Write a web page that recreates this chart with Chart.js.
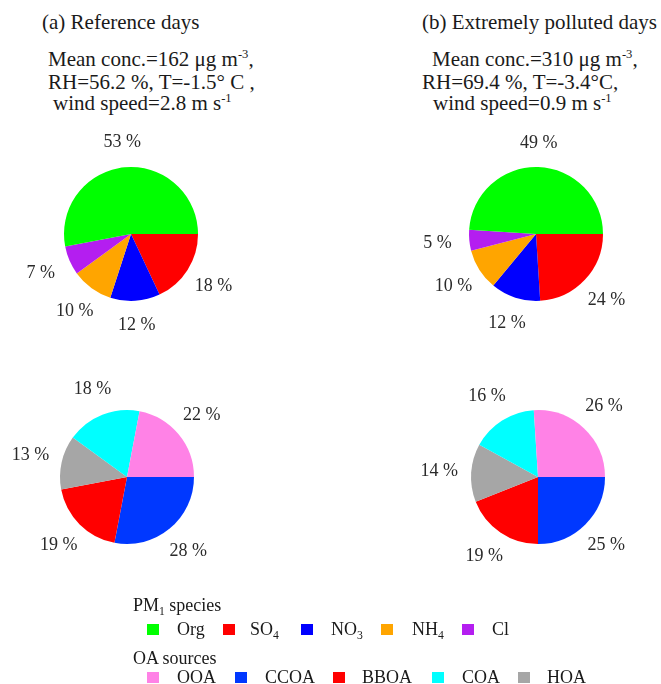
<!DOCTYPE html>
<html><head><meta charset="utf-8">
<script src="https://cdn.jsdelivr.net/npm/chart.js@4/dist/chart.umd.min.js"></script>
<style>
html,body{margin:0;padding:0;background:#fff;}
body{width:661px;height:684px;position:relative;overflow:hidden;font-family:"Liberation Serif","Times New Roman",serif;color:#1a1a1a;}
.t{position:absolute;white-space:nowrap;line-height:1;}
.h{font-size:21px;}
sup{font-size:60%;vertical-align:0.6em;line-height:0;}
sub{font-size:65%;vertical-align:-0.35em;line-height:0;}
canvas{position:absolute;}
.sq{position:absolute;width:12px;height:11px;}
.lg{font-size:18px;}
</style></head>
<body>
<div class="t h" style="left:42px;top:12px;">(a) Reference days</div>
<div class="t h" style="left:48px;top:49px;">Mean conc.=162 μg m<sup>-3</sup>,</div>
<div class="t h" style="left:48px;top:72px;">RH=56.2 %, T=-1.5° C ,</div>
<div class="t h" style="left:53px;top:93px;">wind speed=2.8 m s<sup>-1</sup></div>

<div class="t h" style="left:422px;top:12px;">(b) Extremely polluted days</div>
<div class="t h" style="left:432px;top:49px;">Mean conc.=310 μg m<sup>-3</sup>,</div>
<div class="t h" style="left:422px;top:72px;">RH=69.4 %, T=-3.4°C,</div>
<div class="t h" style="left:433px;top:93px;">wind speed=0.9 m s<sup>-1</sup></div>

<canvas id="c1" width="260" height="260" style="left:1px;top:104px;"></canvas>
<canvas id="c2" width="260" height="260" style="left:406px;top:104px;"></canvas>
<canvas id="c3" width="260" height="260" style="left:-3px;top:347px;"></canvas>
<canvas id="c4" width="260" height="260" style="left:408px;top:347px;"></canvas>

<div id="legend"></div>

<script>
// Categories (ordered clockwise from 3 o'clock, as drawn)
const speciesLabels = ['SO4', 'NO3', 'NH4', 'Cl', 'Org'];
const speciesColors = ['#ff0000', '#0000ff', '#ffa500', '#b41ef0', '#00ff00'];
const speciesReference = [18, 12, 10, 7, 53];
const speciesPolluted  = [24, 12, 10, 5, 49];

const sourceLabels = ['CCOA', 'BBOA', 'HOA', 'COA', 'OOA'];
const sourceColors = ['#0038ff', '#ff0000', '#a6a6a6', '#00ffff', '#ff82e6'];
const sourceReference = [28, 19, 13, 18, 22];
const sourcePolluted  = [25, 19, 14, 16, 26];

// Legend order as in the figure
const speciesLegendOrder = ['Org', 'SO4', 'NO3', 'NH4', 'Cl'];
const sourceLegendOrder = ['OOA', 'CCOA', 'BBOA', 'COA', 'HOA'];

const pctLabels = {
  id: 'pctLabels',
  afterDatasetsDraw(chart) {
    const ctx = chart.ctx;
    const meta = chart.getDatasetMeta(0);
    const vals = chart.data.datasets[0].data;
    ctx.save();
    ctx.font = '18px "Liberation Serif", serif';
    ctx.fillStyle = '#2a2a2a';
    ctx.textAlign = 'center';
    ctx.textBaseline = 'middle';
    meta.data.forEach((arc, i) => {
      const p = arc.getProps(['x', 'y', 'startAngle', 'endAngle', 'outerRadius'], true);
      const a = (p.startAngle + p.endAngle) / 2;
      const d = p.outerRadius + 24 + 8 * Math.abs(Math.cos(a));
      ctx.fillText(vals[i] + ' %', p.x + Math.cos(a) * d, p.y + Math.sin(a) * d);
    });
    ctx.restore();
  }
};

function makePie(id, labels, values, colors) {
  new Chart(document.getElementById(id), {
    type: 'pie',
    data: { labels: labels, datasets: [{ data: values, backgroundColor: colors, borderWidth: 0 }] },
    options: {
      responsive: false,
      animation: false,
      rotation: 90,
      layout: { padding: 63 },
      plugins: { legend: { display: false }, tooltip: { enabled: false } }
    },
    plugins: [pctLabels]
  });
}

makePie('c1', speciesLabels, speciesReference, speciesColors);
makePie('c2', speciesLabels, speciesPolluted, speciesColors);
makePie('c3', sourceLabels, sourceReference, sourceColors);
makePie('c4', sourceLabels, sourcePolluted, sourceColors);

// Legend
function sub(s) { return s.replace(/(\d)/g, '<sub>$1</sub>'); }
const lg = document.getElementById('legend');
let html = '';
html += '<div class="t lg" style="left:133px;top:596px;">PM<sub>1</sub> species</div>';
const row1Sq = [147, 223, 301, 381, 462];
const row1Tx = [177, 250, 331, 412, 492];
speciesLegendOrder.forEach((name, k) => {
  const c = speciesColors[speciesLabels.indexOf(name)];
  html += `<div class="sq" style="left:${row1Sq[k]}px;top:624px;background:${c}"></div>`;
  html += `<div class="t lg" style="left:${row1Tx[k]}px;top:620px;">${sub(name)}</div>`;
});
html += '<div class="t lg" style="left:133px;top:649px;">OA sources</div>';
const row2Sq = [147, 235, 333, 432, 518];
const row2Tx = [177, 265, 362, 462, 547];
sourceLegendOrder.forEach((name, k) => {
  const c = sourceColors[sourceLabels.indexOf(name)];
  html += `<div class="sq" style="left:${row2Sq[k]}px;top:672px;background:${c}"></div>`;
  html += `<div class="t lg" style="left:${row2Tx[k]}px;top:668px;">${name}</div>`;
});
lg.innerHTML = html;
</script>
</body></html>
